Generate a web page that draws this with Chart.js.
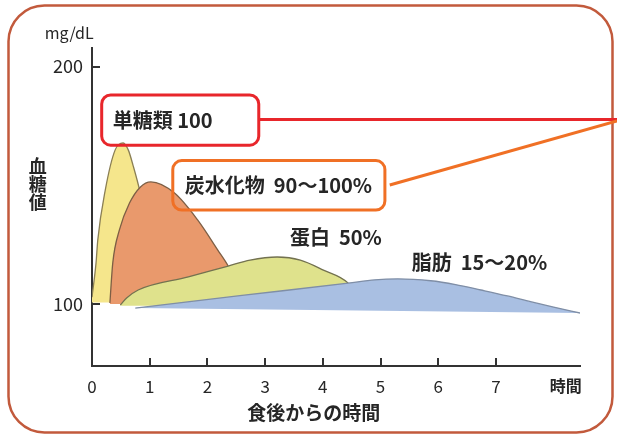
<!DOCTYPE html>
<html><head><meta charset="utf-8">
<script src="https://cdn.jsdelivr.net/npm/chart.js@4/dist/chart.umd.min.js"></script>
<style>html,body{margin:0;padding:0;background:#fff;overflow:hidden}#wrap{width:617px;height:437px;position:relative}</style>
</head><body><div id="wrap"><canvas id="c" width="617" height="437"></canvas></div>
<script>
// ---- data (hours after meal, blood glucose mg/dL) ----
const monoX = [0, 0.07, 0.10, 0.23, 0.40, 0.54, 0.63, 0.71, 0.83, 1.0, 1.2];
const monoY = [102.9, 117.3, 126.9, 148, 164.8, 167.8, 164.8, 158.5, 147.4, 126, 100.8];
const carbX = [0.31, 0.36, 0.475, 0.65, 0.84, 1.02, 1.43, 1.83, 2.18, 2.36, 2.55, 2.75];
const carbY = [100.4, 117.3, 131.2, 142.5, 149.3, 151.4, 146.7, 135.4, 122.7, 116, 107, 100];
const protX = [0.49, 0.6, 0.8, 1.67, 2.36, 2.74, 3.21, 3.61, 4.01, 4.44, 4.7];
const protY = [99.6, 102.5, 105.9, 111.4, 116, 118.5, 119.8, 118.5, 114.3, 108.8, 100];
const fatX = [0.75, 2.6, 4.44, 4.9, 5.3, 5.87, 6.3, 6.74, 7.2, 7.6, 8.0, 8.46];
const fatY = [98.3, 103.6, 108.8, 110.2, 110.6, 109.8, 108.2, 105.9, 103.4, 101, 98.7, 96.2];
const fatBaseX = [0.75, 8.46];
const fatBaseY = [98.3, 96.2];

const xTicks = [0, 1, 2, 3, 4, 5, 6, 7];
const xUnitTick = 8.21;
const xUnitLabel = '時間';
const yTicks = [100, 200];
const yUnit = 'mg/dL';
const yTitle = ['血', '糖', '値'];
const xTitle = '食後からの時間';
const labelMono = '単糖類 100';
const labelCarb = '炭水化物  90〜100%';
const labelProt = '蛋白  50%';
const labelFat = '脂肪  15〜20%';

const pts = (xs, ys) => xs.map((x, i) => ({x, y: ys[i]}));
const FONT = "'Noto Sans CJK JP', 'Noto Sans', sans-serif";
const TXT = '#262626';
const AXIS = '#333';

const decor = {
  id: 'decor',
  beforeDraw(chart) {
    const c = chart.ctx;
    c.save();
    c.strokeStyle = '#c25a3c';
    c.lineWidth = 2.5;
    c.beginPath();
    c.roundRect(8.5, 5.5, 604, 427, 36);
    c.stroke();
    c.restore();
  },
  afterDraw(chart) {
    const xs = chart.scales.x, ys = chart.scales.y, c = chart.ctx;
    const X = v => xs.getPixelForValue(v), Y = v => ys.getPixelForValue(v);
    const W = chart.width;
    const area = chart.chartArea;
    c.save();
    // inward tick marks
    c.strokeStyle = AXIS;
    c.lineWidth = 2;
    c.beginPath();
    xs.ticks.forEach(t => {
      if (t.value > 0 && t.value < 7.5) {
        const px = Math.round(X(t.value));
        c.moveTo(px, area.bottom); c.lineTo(px, area.bottom - 8);
      }
    });
    ys.ticks.forEach(t => {
      const py = Math.round(Y(t.value));
      c.moveTo(area.left, py); c.lineTo(area.left + 8, py);
    });
    c.stroke();
    // unit
    c.fillStyle = TXT;
    c.textBaseline = 'middle';
    c.textAlign = 'center';
    c.font = '16px ' + FONT;
    c.fillText(yUnit, X(-0.395), Y(214.1));
    // vertical title
    c.font = 'bold 18px ' + FONT;
    yTitle.forEach((ch, i) => c.fillText(ch, X(-0.94), Y(158.1 - i * 7.6)));
    // x title
    c.font = 'bold 19px ' + FONT;
    c.fillText(xTitle, X(3.845), Y(54.1));
    // red callout
    c.lineWidth = 3;
    c.strokeStyle = '#e8262b';
    c.beginPath();
    c.roundRect(X(0.168), Y(188.0), X(2.89) - X(0.168), Y(166.9) - Y(188.0), 9);
    c.stroke();
    c.beginPath();
    c.moveTo(X(2.89), Y(177.7)); c.lineTo(W, Y(177.7));
    c.stroke();
    // orange callout
    c.strokeStyle = '#f07025';
    c.beginPath();
    c.roundRect(X(1.40), Y(160.4), X(5.076) - X(1.40), Y(139.6) - Y(160.4), 9);
    c.stroke();
    c.beginPath();
    c.moveTo(X(5.16), Y(150.1)); c.lineTo(W, Y(177.05));
    c.stroke();
    // labels
    c.textAlign = 'left';
    c.font = 'bold 20px ' + FONT;
    c.fillText(labelMono, X(0.359), Y(177.5));
    c.fillText(labelCarb, X(1.607), Y(150.1));
    c.fillText(labelProt, X(3.43), Y(128.2));
    c.fillText(labelFat, X(5.54), Y(117.7));
    c.restore();
  }
};

const edge = 1.3;
new Chart(document.getElementById('c'), {
  type: 'line',
  data: {
    datasets: [
      {label: '脂肪', data: pts(fatX, fatY), backgroundColor: '#a9bfe2', borderColor: '#7f8ea6', borderWidth: edge, fill: 1, pointRadius: 0, cubicInterpolationMode: 'monotone'},
      {label: 'base', data: pts(fatBaseX, fatBaseY), borderWidth: 0, borderColor: 'rgba(0,0,0,0)', fill: false, pointRadius: 0},
      {label: '蛋白', data: pts(protX, protY), backgroundColor: '#dfe28c', borderColor: '#737250', borderWidth: edge, fill: {value: 99.3}, pointRadius: 0, cubicInterpolationMode: 'monotone'},
      {label: '炭水化物', data: pts(carbX, carbY), backgroundColor: '#e9996c', borderColor: '#7d5f45', borderWidth: edge, fill: {value: 100}, pointRadius: 0, cubicInterpolationMode: 'monotone'},
      {label: '単糖類', data: pts(monoX, monoY), backgroundColor: '#f5e68c', borderColor: '#8a7f55', borderWidth: edge, fill: {value: 100.6}, pointRadius: 0, cubicInterpolationMode: 'monotone'}
    ]
  },
  options: {
    responsive: false,
    animation: false,
    devicePixelRatio: 1,
    layout: {padding: {top: 48, right: 37, left: 0, bottom: 0}},
    plugins: {legend: {display: false}, tooltip: {enabled: false}},
    scales: {
      x: {
        type: 'linear', min: 0, max: 8.457,
        afterFit: s => { s.height = 71; },
        afterBuildTicks: s => { s.ticks = xTicks.concat([xUnitTick]).map(v => ({value: v})); },
        border: {display: true, color: AXIS, width: 2},
        grid: {display: false, drawTicks: false},
        ticks: {padding: 10, color: TXT, maxRotation: 0, autoSkip: false,
                font: ctx => (ctx.tick && ctx.tick.value > 7.5) ? {family: FONT, size: 16, weight: 'bold'} : {family: FONT, size: 17},
                callback: v => v > 7.5 ? xUnitLabel : String(v)}
      },
      y: {
        min: 73.9, max: 207.8,
        afterFit: s => { s.width = 92; },
        afterBuildTicks: s => { s.ticks = yTicks.map(v => ({value: v})); },
        border: {display: true, color: AXIS, width: 2},
        grid: {display: false, drawTicks: false},
        ticks: {padding: 9, color: TXT, font: {family: FONT, size: 18}, callback: v => String(v)}
      }
    }
  },
  plugins: [decor]
});
</script></body></html>
